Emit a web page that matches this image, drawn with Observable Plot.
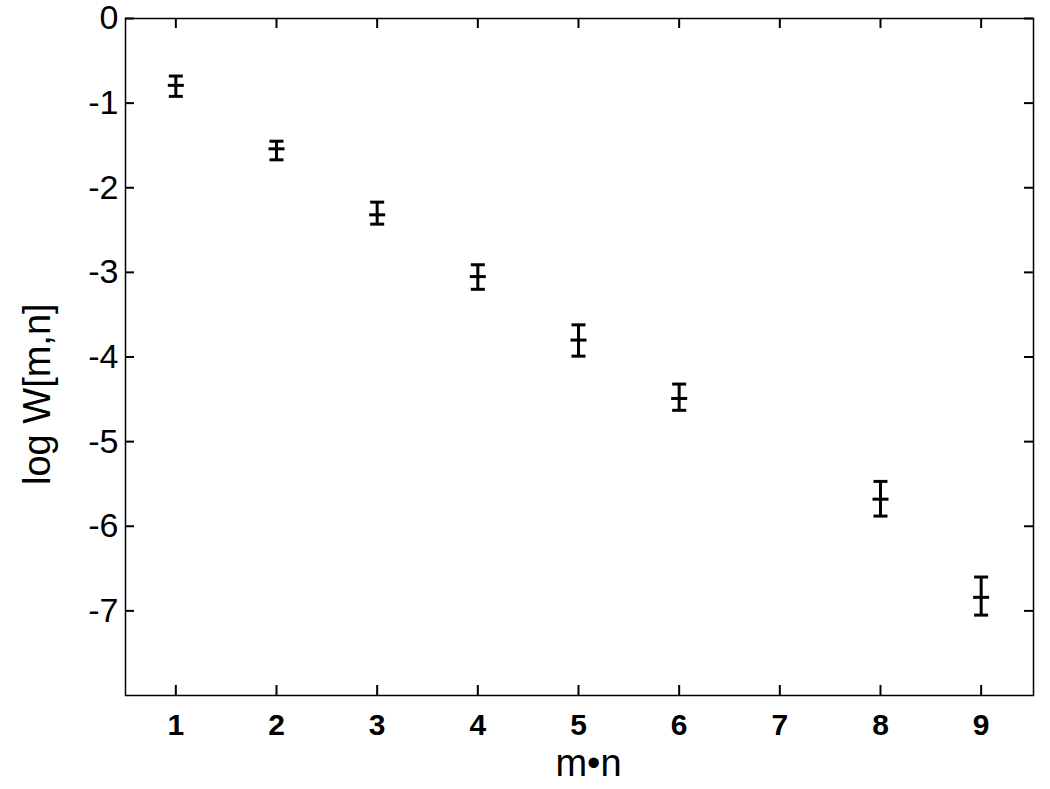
<!DOCTYPE html>
<html><head><meta charset="utf-8">
<script src="https://cdn.jsdelivr.net/npm/d3@7"></script>
<script src="https://cdn.jsdelivr.net/npm/@observablehq/plot@0.6"></script>
<style>body{margin:0;background:#fff}</style>
</head><body><div id="chart"></div>
<script>
const mn = [1, 2, 3, 4, 5, 6, 8, 9];
const logW = [-0.79, -1.54, -2.32, -3.05, -3.80, -4.49, -5.68, -6.84];
const errLow = [-0.92, -1.67, -2.43, -3.20, -3.99, -4.63, -5.88, -7.05];
const errHigh = [-0.68, -1.45, -2.17, -2.91, -3.62, -4.32, -5.47, -6.60];
const xTicks = [1, 2, 3, 4, 5, 6, 7, 8, 9];
const yTicks = [0, -1, -2, -3, -4, -5, -6, -7];
const xLabel = "m•n";
const yLabel = "log W[m,n]";

const data = mn.map((x, i) => ({x, y: logW[i], lo: errLow[i], hi: errHigh[i]}));
const hline = {draw(ctx, size) { const r = Math.sqrt(size / Math.PI); ctx.moveTo(-r, 0); ctx.lineTo(r, 0); }};

const W = 1050, H = 789, mt = 18, mb = 94, ml = 125, mr = 17;
const plotW = W - ml - mr, plotH = H - mt - mb;

const chart = Plot.plot({
  width: W, height: H,
  marginTop: mt, marginBottom: mb, marginLeft: ml, marginRight: mr,
  style: {fontFamily: "'Liberation Sans', Arial, sans-serif", background: "white", color: "black", overflow: "visible"},
  x: {domain: [0.5, 9.52]},
  y: {domain: [-8, 0]},
  marks: [
    Plot.frame({stroke: "black", strokeWidth: 1.5}),
    Plot.tickX(xTicks, {x: d => d, insetTop: plotH - 10, strokeWidth: 2}),
    Plot.tickX(xTicks, {x: d => d, insetBottom: plotH - 10, strokeWidth: 2}),
    Plot.tickY(yTicks, {y: d => d, insetRight: plotW - 9, strokeWidth: 2}),
    Plot.tickY(yTicks, {y: d => d, insetLeft: plotW - 9, strokeWidth: 2}),
    Plot.axisX(xTicks, {tickSize: 0, tickPadding: 18, fontSize: 30, fontWeight: "bold", label: null, tickFormat: d => String(d)}),
    Plot.axisY(yTicks, {tickSize: 0, tickPadding: 7, fontSize: 34, label: null, tickFormat: d => String(d)}),
    Plot.ruleX(data, {x: "x", y1: "lo", y2: "hi", stroke: "black", strokeWidth: 3}),
    Plot.dot(data, {x: "x", y: "lo", symbol: hline, r: 7, stroke: "black", strokeWidth: 3, fill: "none"}),
    Plot.dot(data, {x: "x", y: "hi", symbol: hline, r: 7, stroke: "black", strokeWidth: 3, fill: "none"}),
    Plot.dot(data, {x: "x", y: "y", symbol: hline, r: 8, stroke: "black", strokeWidth: 3, fill: "none"}),
    Plot.text([xLabel], {text: d => d, frameAnchor: "bottom", dx: 9, dy: 68, lineAnchor: "middle", fontSize: 38}),
    Plot.text([yLabel], {text: d => d, frameAnchor: "left", dx: -88, dy: 128, rotate: -90, lineAnchor: "middle", fontSize: 38})
  ]
});
document.getElementById("chart").append(chart);
</script>
</body></html>
